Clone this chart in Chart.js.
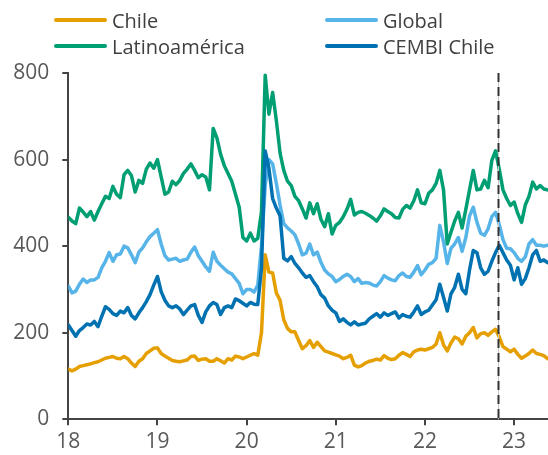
<!DOCTYPE html>
<html lang="es">
<head>
<meta charset="utf-8">
<title>Spreads de bonos corporativos</title>
<script src="https://cdn.jsdelivr.net/npm/chart.js@4.4.1/dist/chart.umd.min.js"></script>
<style>
  html, body { margin: 0; padding: 0; background: #fff; }
  #wrap { position: relative; width: 548px; height: 455px; }
  #grafico { position: absolute; left: 0; top: 0; }
  .leyenda-item {
    position: absolute; display: flex; align-items: center; height: 26px;
    font-family: "Open Sans", "Noto Sans", sans-serif; font-size: 20px; color: #404040;
    white-space: nowrap;
  }
  .leyenda-linea { width: 53px; height: 4px; border-radius: 2px; margin-right: 5px; }
</style>
</head>
<body>
<div id="wrap">
  <canvas id="grafico" width="548" height="455"></canvas>
  <div id="leyenda"></div>
</div>
<script>
// Serie quincenal desde enero de 2018 (años decimales)
const fechas = Array.from({ length: 130 }, (_, i) => 2018 + i / 24);

// Spreads en puntos básicos
const chile = [
  116,112,116,122,124,126,128,131,133,137,
  141,143,145,141,140,145,140,130,122,134,
  140,152,158,164,165,152,146,141,136,134,
  133,135,137,145,146,136,139,140,134,134,
  140,135,130,140,137,146,144,140,144,148,
  152,148,200,380,340,338,292,275,230,210,
  202,202,182,163,170,182,166,178,168,158,
  155,152,149,146,140,143,148,125,121,124,
  130,134,136,139,137,147,141,138,140,148,
  154,150,145,156,160,162,160,163,166,174,
  200,172,158,176,190,186,174,192,200,212,
  188,198,200,194,202,208,190,168,162,156,
  162,150,141,146,152,160,152,150,147,140
];

const global = [
  308,292,296,312,324,316,322,322,328,350,
  365,385,365,380,382,400,396,380,362,386,
  396,410,422,430,438,405,378,368,370,372,
  365,368,370,386,398,378,365,352,342,386,
  365,356,348,340,336,325,314,290,300,300,
  294,310,400,540,600,590,545,495,452,442,
  435,426,405,380,384,405,380,386,363,345,
  336,330,318,323,330,335,330,318,325,314,
  316,315,310,308,318,332,326,322,320,332,
  338,330,328,340,355,334,345,358,362,372,
  448,410,360,395,405,420,388,420,470,490,
  455,430,425,440,468,478,450,415,395,394,
  385,372,365,375,405,415,402,402,400,402
];

const latam = [
  467,458,452,488,479,468,480,460,480,498,
  515,510,538,520,512,565,575,563,525,552,
  545,578,592,580,600,560,520,525,550,542,
  552,568,578,590,575,558,565,560,530,672,
  650,612,586,568,550,520,490,420,412,430,
  412,418,480,795,705,755,690,615,575,550,
  540,515,505,486,465,500,475,498,462,445,
  475,428,448,455,468,485,508,472,478,480,
  476,471,465,458,470,486,480,475,466,465,
  485,494,488,505,530,500,498,522,530,545,
  575,530,405,432,458,478,442,485,530,575,
  530,532,552,535,598,620,578,530,510,494,
  502,475,455,495,515,548,532,540,532,530
];

const cembiChile = [
  218,205,192,205,212,220,218,226,214,238,
  260,254,244,240,250,246,258,240,232,246,
  258,272,288,310,330,295,275,262,258,262,
  255,242,252,262,265,240,224,248,262,270,
  265,242,258,262,258,278,274,268,262,270,
  266,265,350,620,580,510,488,470,372,366,
  376,360,350,338,328,332,318,306,288,280,
  262,252,246,226,232,224,218,225,218,220,
  222,232,238,244,236,246,240,244,248,234,
  242,238,236,248,262,242,248,252,264,276,
  312,282,250,290,305,335,300,290,345,390,
  385,350,335,342,365,385,402,385,368,356,
  322,350,312,325,350,380,390,365,368,362
];

const ticksY = [0, 200, 400, 600, 800];
const fechaCorte = 2022.82;   // línea vertical punteada

const puntos = (vals) => vals.map((v, i) => ({ x: fechas[i], y: v }));

const series = [
  { label: 'Chile',          data: chile,      color: '#E69F00', orden: 4, col: 0, fila: 0 },
  { label: 'Global',         data: global,     color: '#56B4E9', orden: 3, col: 1, fila: 0 },
  { label: 'Latinoamérica',  data: latam,      color: '#009E73', orden: 2, col: 0, fila: 1 },
  { label: 'CEMBI Chile',    data: cembiChile, color: '#0072B2', orden: 1, col: 1, fila: 1 }
];

const ejeColor = '#444444';
const textoColor = '#595959';
const fuente = { family: '"Open Sans", "Noto Sans", sans-serif', size: 21 };

// Línea vertical punteada sobre el área del gráfico
const lineaCorte = {
  id: 'lineaCorte',
  afterDatasetsDraw(chart) {
    const { ctx, chartArea, scales } = chart;
    const x = Math.round(scales.x.getPixelForValue(fechaCorte)) + 0.5;
    ctx.save();
    ctx.beginPath();
    ctx.strokeStyle = '#c8c8c8';
    ctx.lineWidth = 1;
    ctx.moveTo(x, chartArea.top);
    ctx.lineTo(x, chartArea.bottom);
    ctx.stroke();
    ctx.beginPath();
    ctx.setLineDash([9, 5]);
    ctx.strokeStyle = '#333333';
    ctx.lineWidth = 2;
    ctx.moveTo(x, chartArea.top);
    ctx.lineTo(x, chartArea.bottom);
    ctx.stroke();
    ctx.restore();
  }
};

const chart = new Chart(document.getElementById('grafico'), {
  type: 'line',
  data: {
    datasets: series.map(s => ({
      label: s.label,
      data: puntos(s.data),
      borderColor: s.color,
      backgroundColor: s.color,
      borderWidth: 3.5,
      pointRadius: 0,
      tension: 0,
      order: s.orden,
      borderJoinStyle: 'round',
      borderCapStyle: 'round'
    }))
  },
  options: {
    responsive: false,
    devicePixelRatio: 1,
    animation: false,
    layout: { padding: { top: 73, right: 0, left: 0, bottom: 0 } },
    plugins: { legend: { display: false }, tooltip: { enabled: false } },
    scales: {
      x: {
        type: 'linear',
        min: 2018,
        max: 2023.38,
        afterFit(scale) { scale.height = 35.7; },
        grid: { drawOnChartArea: false, drawTicks: true, tickLength: 6, color: ejeColor, lineWidth: 2 },
        border: { display: true, color: ejeColor, width: 2 },
        ticks: {
          stepSize: 1,
          includeBounds: false,
          autoSkip: false,
          maxRotation: 0,
          padding: 4,
          color: textoColor,
          font: fuente,
          callback: (v) => Number.isInteger(v) ? String(v - 2000) : ''
        }
      },
      y: {
        min: 0,
        max: 800,
        afterFit(scale) { scale.width = 68.3; },
        afterBuildTicks(scale) { scale.ticks = ticksY.map(v => ({ value: v })); },
        grid: { drawOnChartArea: false, drawTicks: true, tickLength: 6, color: ejeColor, lineWidth: 2 },
        border: { display: true, color: ejeColor, width: 2 },
        ticks: { padding: 13, color: textoColor, font: fuente }
      }
    }
  },
  plugins: [lineaCorte]
});

// Leyenda en dos columnas, a partir de las series del gráfico
const leyenda = document.getElementById('leyenda');
const colX = [54, 325];
const filaY = [7, 33];
chart.data.datasets.forEach((ds, i) => {
  const s = series[i];
  const item = document.createElement('div');
  item.className = 'leyenda-item';
  item.style.left = colX[s.col] + 'px';
  item.style.top = filaY[s.fila] + 'px';
  const linea = document.createElement('span');
  linea.className = 'leyenda-linea';
  linea.style.background = ds.borderColor;
  const texto = document.createElement('span');
  texto.textContent = ds.label;
  item.appendChild(linea);
  item.appendChild(texto);
  leyenda.appendChild(item);
});
</script>
</body>
</html>
